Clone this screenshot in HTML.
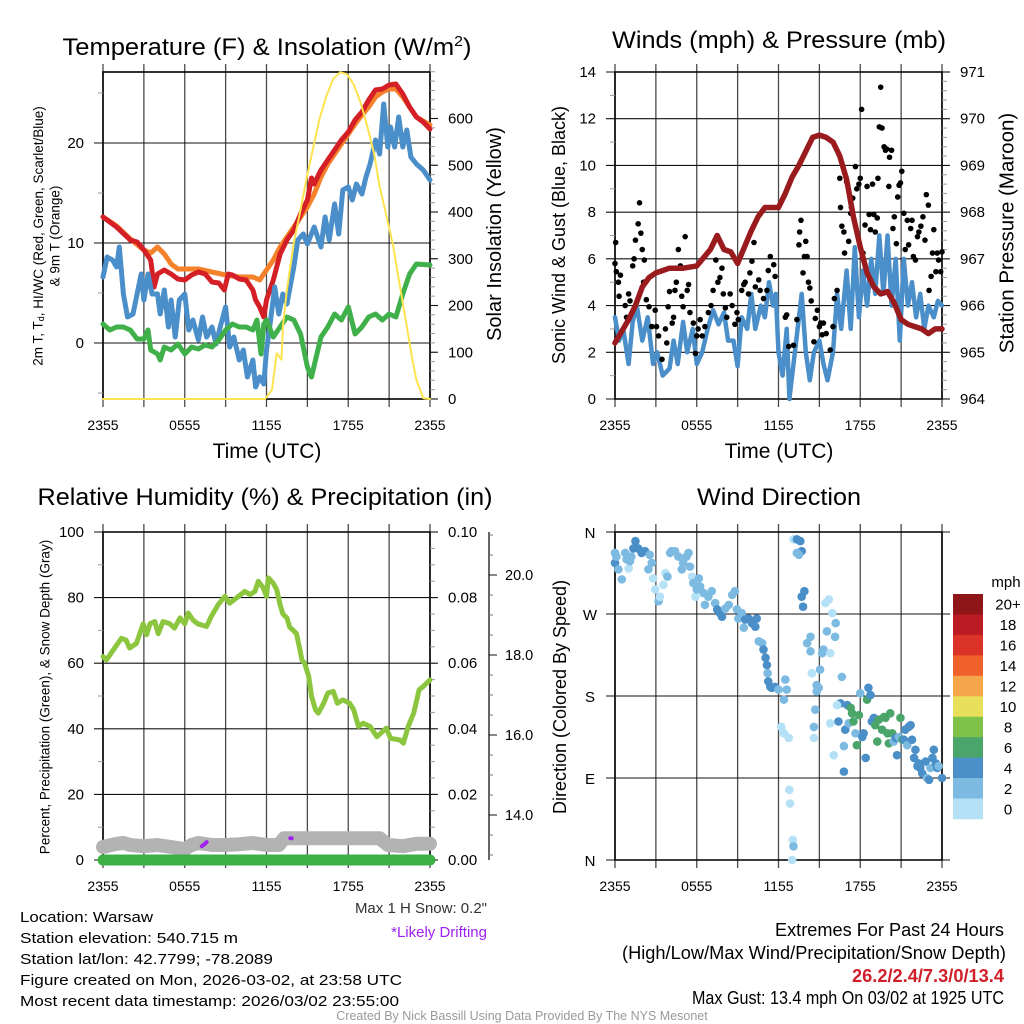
<!DOCTYPE html>
<html><head><meta charset="utf-8"><style>
html,body{margin:0;padding:0;background:#fff}
svg{display:block;font-family:"Liberation Sans",Arial,sans-serif}
</style></head><body>
<svg id="c" width="1024" height="1024" viewBox="0 0 1024 1024" xmlns="http://www.w3.org/2000/svg">
<rect width="1024" height="1024" fill="#fff"/>
<text x="267" y="55" font-size="24" text-anchor="middle" textLength="409" lengthAdjust="spacingAndGlyphs">Temperature (F) &amp; Insolation (W/m<tspan font-size="15" dy="-9">2</tspan><tspan dy="9">)</tspan></text>
<text x="779" y="48" font-size="24" text-anchor="middle" textLength="334" lengthAdjust="spacingAndGlyphs">Winds (mph) &amp; Pressure (mb)</text>
<text x="265" y="505" font-size="24" text-anchor="middle" textLength="455" lengthAdjust="spacingAndGlyphs">Relative Humidity (%) &amp; Precipitation (in)</text>
<text x="779" y="505" font-size="24" text-anchor="middle" textLength="164" lengthAdjust="spacingAndGlyphs">Wind Direction</text>

<text transform="translate(38,236) rotate(-90)" font-size="13.5" text-anchor="middle" dominant-baseline="central">2m T, T<tspan font-size="9" dy="3">d</tspan><tspan dy="-3">, HI/WC (Red, Green, Scarlet/Blue)</tspan></text>
<text transform="translate(55,236) rotate(-90)" font-size="13.5" text-anchor="middle" dominant-baseline="central">&amp; 9m T (Orange)</text>
<text transform="translate(495,234) rotate(-90)" font-size="20" text-anchor="middle" dominant-baseline="central">Solar Insolation (Yellow)</text>
<text transform="translate(559,235) rotate(-90)" font-size="18" text-anchor="middle" dominant-baseline="central">Sonic Wind &amp; Gust (Blue, Black)</text>
<text transform="translate(1007,233) rotate(-90)" font-size="20.5" text-anchor="middle" dominant-baseline="central">Station Pressure (Maroon)</text>
<text transform="translate(45,697) rotate(-90)" font-size="13.5" text-anchor="middle" dominant-baseline="central">Percent, Precipitation (Green), &amp; Snow Depth (Gray)</text>
<text transform="translate(560,697) rotate(-90)" font-size="18" text-anchor="middle" dominant-baseline="central">Direction (Colored By Speed)</text>
<text x="267" y="458" font-size="21" text-anchor="middle">Time (UTC)</text>
<text x="779" y="458" font-size="21" text-anchor="middle">Time (UTC)</text>

<text x="487" y="913" font-size="15" text-anchor="end" fill="#333">Max 1 H Snow: 0.2"</text>
<text x="487" y="937" font-size="15" text-anchor="end" fill="#a020f0">*Likely Drifting</text>

<g font-size="15">
<text x="20" y="922" textLength="133" lengthAdjust="spacingAndGlyphs">Location: Warsaw</text>
<text x="20" y="943" textLength="218" lengthAdjust="spacingAndGlyphs">Station elevation: 540.715 m</text>
<text x="20" y="964" textLength="253" lengthAdjust="spacingAndGlyphs">Station lat/lon: 42.7799; -78.2089</text>
<text x="20" y="985" textLength="382" lengthAdjust="spacingAndGlyphs">Figure created on Mon, 2026-03-02, at 23:58 UTC</text>
<text x="20" y="1006" textLength="379" lengthAdjust="spacingAndGlyphs">Most recent data timestamp: 2026/03/02 23:55:00</text>
</g>
<g font-size="18" text-anchor="end">
<text x="1004" y="936" textLength="229" lengthAdjust="spacingAndGlyphs">Extremes For Past 24 Hours</text>
<text x="1006" y="959" textLength="384" lengthAdjust="spacingAndGlyphs">(High/Low/Max Wind/Precipitation/Snow Depth)</text>
<text x="1004" y="982" font-weight="bold" fill="#d0202a" textLength="152" lengthAdjust="spacingAndGlyphs">26.2/2.4/7.3/0/13.4</text>
<text x="1004" y="1004" textLength="312" lengthAdjust="spacingAndGlyphs">Max Gust: 13.4 mph On 03/02 at 1925 UTC</text>
</g>
<text x="522" y="1020" font-size="12.5" text-anchor="middle" fill="#999">Created By Nick Bassill Using Data Provided By The NYS Mesonet</text>
<text x="1006" y="587" font-size="15" text-anchor="middle">mph</text>
</svg>
<script>
// ---------- DATA ----------
const timeTickLabels = ["2355","0555","1155","1755","2355"];
const tempTicks = [0,10,20];
const solarTicks = [0,100,200,300,400,500,600];
const windTicks = [0,2,4,6,8,10,12,14];
const pressTicks = [964,965,966,967,968,969,970,971];
const rhTicks = [0,20,40,60,80,100];
const precipTicks = [0,0.02,0.04,0.06,0.08,0.10];
const snowTicks = [14,16,18,20];
const dirTicks = [0,90,180,270,360];
const dirTickLabels = ["N","E","S","W","N"];
const cbLabels = ["20+","18","16","14","12","10","8","6","4","2","0"];
const cbColors = ["#8e1518","#bb1c23","#dc3328","#f0602b","#f5a64a","#e8e05a","#7ec24a","#4aa56b","#4a8fc7","#7dbae2","#b5e1f7"];

const orangeT=[0,1,2,3,3.5,4,4.5,5,5.5,6,7,8,9,10,11,11.5,12,12.5,13,13.5,14,14.5,15,15.5,16,16.5,17,17.5,18,18.5,19,19.5,20,20.5,21,21.5,22,22.5,23,24];
const orangeV=[12.6,11.7,10.4,9.3,9.0,9.6,8.9,7.9,7.4,7.4,7.4,7.1,6.8,6.6,6.6,6.3,7.3,8.3,9.6,10.6,11.6,12.6,13.6,14.9,16.6,17.9,18.9,19.9,20.9,21.9,22.8,23.6,24.6,25.1,25.4,25.4,24.6,23.6,22.6,21.8];
const redT=[0,1,2,2.5,3,3.5,3.75,4,4.5,5,5.5,6,6.5,7,7.5,8,8.5,8.9,9.2,9.5,10,10.5,11,11.2,11.5,11.8,12,12.5,13,13.5,14,14.5,15,15.3,15.5,16,16.5,17,17.5,18,18.5,19,19.5,20,20.5,21,21.5,22,22.5,23,23.5,24];
const redV=[12.6,11.6,10.3,10.1,9.3,8.3,5.6,6.9,7.3,6.9,6.4,6.3,6.8,7.1,6.9,6.1,6.0,5.3,6.9,6.8,6.4,6.3,5.3,4.3,3.6,2.6,4.3,6.3,8.9,10.3,11.3,12.9,14.3,16.5,15.9,17.3,18.3,19.3,20.3,21.1,22.3,23.1,24.3,25.3,25.4,25.8,25.9,24.9,23.6,22.6,22.1,21.4];
const blueT=[0,0.3,0.7,1,1.2,1.5,1.8,2.2,2.5,2.8,3,3.3,3.6,4,4.2,4.5,4.8,5,5.3,5.6,6,6.3,6.6,7,7.3,7.6,8,8.3,8.6,9,9.3,9.6,10,10.3,10.6,11,11.2,11.5,11.8,12,12.3,12.6,12.9,13.2,13.5,14,14.3,14.7,15,15.5,16,16.3,16.6,17,17.3,17.6,18,18.3,18.6,19,19.3,19.6,20,20.3,20.6,20.9,21.1,21.4,21.7,22,22.3,22.6,23,23.5,24];
const blueV=[6.6,8.6,8.3,7.6,9.6,4.9,2.6,2.9,4.9,6.9,4.3,6.9,4.9,4.9,2.9,5.3,1.6,4.3,0.6,4.3,4.9,1.3,2.3,0.3,2.6,0.6,1.6,-0.1,1.6,3.6,-0.4,0.6,-1.7,-0.7,-3.4,-1.7,-4.4,-3.4,-4.1,-0.7,2.3,5.6,2.9,4.9,3.9,7.6,10.3,10.9,9.9,11.6,9.6,12.6,10.3,13.9,10.9,15.3,15.6,14.3,15.9,14.9,16.6,17.9,20.3,18.9,23.9,19.6,21.6,19.6,22.6,19.6,21.3,18.6,17.9,17.3,16.3];
const dewT=[0,0.5,1,1.5,2,2.5,3,3.3,3.5,4,4.2,4.5,5,5.5,6,6.5,7,7.5,8,8.5,9,9.5,10,10.5,11,11.3,11.6,11.8,12,12.5,13,13.5,14,14.5,15,15.3,15.6,16,16.5,17,17.5,18,18.5,19,19.5,20,20.5,21,21.5,22,22.5,23,24];
const dewV=[1.9,1.3,1.6,1.6,1.3,0.4,0.4,1.3,-0.7,-1.1,-1.7,-0.4,-0.7,-0.1,-1.1,-0.4,-0.6,-0.2,-0.4,0.3,1.3,1.9,1.6,1.6,1.3,2.3,-1.1,1.9,2.3,0.6,1.6,2.6,2.3,0.9,-2.4,-3.4,-1.7,0.6,1.6,2.9,2.3,3.6,0.9,1.6,2.6,2.9,2.3,2.9,2.6,4.9,6.9,7.9,7.8];
const solarT=[0,11.9,12.4,12.75,13.1,13.2,13.5,14,14.5,15,15.4,15.9,16.4,16.9,17.4,17.9,18.4,18.9,19.4,19.9,20.3,20.8,21.3,21.8,22.3,22.7,23,23.5,24];
const solarV=[0,0,20,98,84,155,234,334,405,480,534,600,648,685,699,695,673,635,583,525,455,392,327,240,155,85,41,2,0];

const pressT=[0,1,1.5,2,2.5,3,4,5,6,7,7.5,8,8.5,9,9.5,10,10.5,11,12,12.5,13,13.5,14,14.5,15,15.5,16,16.5,17,17.5,18,18.5,19,19.5,20,20.5,21,21.5,22,22.5,23,23.5,24];
const pressV=[965.2,965.7,966.0,966.4,966.6,966.7,966.8,966.8,966.85,967.2,967.5,967.2,967.15,966.9,967.25,967.6,967.9,968.1,968.1,968.4,968.75,969.0,969.3,969.6,969.65,969.6,969.5,969.2,968.7,967.9,967.25,966.7,966.4,966.25,966.3,966.05,965.7,965.6,965.55,965.5,965.4,965.5,965.5];
const sonicT=[0,0.3,0.6,1,1.3,1.6,2,2.4,2.8,3.1,3.5,4,4.3,4.6,5,5.3,5.7,6,6.4,6.8,7.2,7.6,8,8.3,8.7,9,9.3,9.7,10,10.3,10.7,11,11.3,11.6,11.8,12,12.3,12.6,12.8,13.1,13.4,13.7,14,14.3,14.6,15,15.3,15.6,16,16.3,16.6,17,17.3,17.6,17.9,18.2,18.5,18.8,19.1,19.4,19.7,20,20.3,20.6,20.9,21.2,21.5,21.8,22.1,22.4,22.7,23,23.4,23.7,24];
const sonicV=[3.5,2.5,3.0,1.5,3.3,4.0,2.5,3.5,1.5,2.0,1.0,1.3,2.5,1.5,3.3,2.0,3.0,1.5,2.0,3.0,3.8,3.2,3.7,2.5,2.5,1.4,3.5,3.0,4.5,3.0,4.0,3.5,5.0,4.0,4.5,2.0,1.0,3.0,0.0,1.5,3.0,4.5,2.0,0.8,2.0,2.5,1.5,0.8,2.0,4.5,3.0,5.5,3.0,6.5,3.5,5.5,4.0,6.0,4.5,7.0,4.5,7.0,4.0,6.0,2.5,6.0,4.0,5.0,3.5,4.5,3.0,4.0,3.5,4.2,4.0];
const gustT=[0,0.05,0.1,0.25,0.4,0.3,0.75,0.85,1.0,1.1,1.3,1.4,1.5,1.7,1.8,1.9,2.0,2.15,2.1,2.3,2.5,2.7,2.95,3.05,3.2,3.45,3.7,3.8,3.9,4.0,4.2,4.3,4.4,4.5,4.65,4.8,4.9,5.0,5.15,5.3,5.4,5.5,5.75,5.9,6.0,6.1,6.25,6.4,6.6,6.85,7.05,7.2,7.4,7.55,7.7,7.85,7.95,8.1,8.2,8.45,8.6,8.8,8.95,9.05,9.3,9.45,9.55,9.8,9.9,10.05,10.2,10.3,10.55,10.65,10.9,11.15,11.25,11.4,11.65,11.75,12.5,12.6,12.75,13.1,13.35,13.5,13.55,13.65,13.8,13.9,14.0,14.1,14.2,14.3,14.4,14.6,14.7,14.85,15.0,15.1,15.2,15.3,15.5,15.8,16.0,16.1,16.3,16.5,16.55,16.65,16.8,16.85,17.0,17.15,17.3,17.35,17.45,17.65,17.75,17.9,18.0,18.1,18.2,18.35,18.5,18.65,18.75,18.9,19.0,19.1,19.25,19.3,19.4,19.5,19.6,19.75,19.85,19.95,20.1,20.15,20.3,20.4,20.5,20.65,20.75,20.85,20.95,21.05,21.2,21.3,21.45,21.55,21.7,21.8,21.9,22.05,22.2,22.3,22.45,22.6,22.75,22.85,23.0,23.05,23.2,23.3,23.4,23.55,23.65,23.75,23.9,24.0];
const gustV=[5.8,6.7,5.45,5.0,5.3,4.4,4.0,3.5,4.5,4.2,5.7,6.0,6.8,7.5,8.4,7.1,6.4,5.95,5.0,4.25,3.95,3.1,3.8,3.1,2.7,1.7,3.0,2.4,3.95,4.6,3.25,3.5,4.65,5.0,6.4,5.7,4.4,3.95,6.95,4.65,4.9,3.7,3.25,1.95,2.7,3.0,3.4,2.7,3.1,3.7,4.0,4.65,5.95,5.0,5.2,5.6,4.5,3.9,3.5,4.5,4.0,3.2,3.7,3.4,4.65,4.9,5.0,4.5,5.4,5.9,6.7,4.8,5.1,4.65,4.3,4.65,5.5,6.1,5.75,5.25,3.5,3.6,2.25,2.3,3.4,6.6,7.15,7.65,5.4,6.1,6.75,6.1,5.0,4.75,4.2,2.45,3.45,3.8,3.1,3.25,2.75,3.25,2.8,2.1,3.1,4.3,4.65,9.45,8.2,7.4,7.15,6.25,9.3,6.75,7.95,8.2,8.6,9.95,9.0,9.2,9.45,12.4,6.25,7.45,9.1,7.9,7.25,9.2,7.9,7.15,7.75,9.45,11.65,13.35,11.6,10.8,10.65,10.7,9.1,10.35,10.65,7.3,7.8,6.65,8.65,9.15,9.25,9.75,7.95,6.4,7.65,6.6,7.3,7.65,6.1,5.95,6.95,7.15,7.4,7.8,6.8,8.75,8.3,4.65,5.25,6.25,7.25,5.45,6.25,5.95,5.45,6.3];

const rhT=[0,0.25,0.75,1.35,1.7,1.95,2.45,2.95,3.2,3.45,3.8,4.05,4.4,4.9,5.25,5.65,6.0,6.25,6.6,6.95,7.6,7.95,8.45,8.95,9.3,9.8,10.4,10.8,11.15,11.4,11.76,12.0,12.13,12.5,12.75,13.0,13.2,13.5,13.7,13.97,14.2,14.46,14.6,14.8,15.1,15.3,15.6,15.8,16.2,16.5,16.9,17.2,17.6,18.1,18.4,18.75,19.1,19.6,20.1,20.8,21.1,21.8,22.05,22.4,22.8,23.2,23.5,24];
const rhV=[62,61,64,67.6,67,64.6,66,72,68.7,72,72.7,69,72.7,72,70.7,73.8,72,75.3,73.2,72,71.2,74.3,77.8,80.4,78.3,79.9,81.9,80.9,81.9,85,83,80.4,86,84.4,82.4,77.8,75,73.8,71,70,69,64,61,60,56,50,45.8,44.8,47.8,50.9,51.4,47.8,48.8,47.8,45.8,40.7,41.7,40.7,37.6,40.2,37.1,36.6,35.6,40.7,44.8,51.9,52.9,54.9];
const snowT=[0,1,1.5,2,3,4,5,6,6.5,7,8,9,10,11,12,12.9,13.3,20.3,20.9,22,23,24];
const snowV=[13.2,13.28,13.3,13.25,13.22,13.25,13.2,13.15,13.25,13.3,13.25,13.25,13.27,13.3,13.25,13.25,13.42,13.42,13.25,13.22,13.28,13.28];
const precipT=[0,24];
const precipV=[0,0];
const driftT=[7.25,7.45,7.6];
const driftV=[13.22,13.27,13.32];
const drift2T=[13.75,13.85];
const drift2V=[13.42,13.42];

const dirT=[0,0,0.1,0.25,0.5,0.75,0.85,1.0,1.1,1.2,1.35,1.5,1.7,1.95,2.2,2.45,2.55,2.7,2.8,2.95,3.2,3.3,3.55,3.7,3.85,4.05,4.15,4.4,4.65,4.9,5.0,5.25,5.4,5.5,5.65,5.75,5.9,6.0,6.15,6.25,6.5,6.6,6.85,7.1,7.35,7.5,7.7,7.85,8.1,8.35,8.6,8.8,8.95,9.05,9.3,9.45,9.55,9.8,10.05,10.3,10.4,10.55,10.8,10.9,11.05,11.15,11.2,11.25,11.4,11.5,11.75,12.0,12.4,12.5,12.6,12.2,12.4,12.75,12.8,12.85,13.05,13.1,13.0,13.1,13.35,13.6,13.7,13.35,13.5,13.7,13.9,13.8,14.1,14.35,14.35,14.45,14.6,14.6,14.7,14.8,14.8,14.95,15.05,15.2,15.3,15.55,15.45,15.7,15.95,16.2,16.15,15.8,16.05,16.55,16.4,16.3,15.8,16.65,16.8,16.8,16.9,17.05,17.15,17.3,17.4,17.5,17.65,17.75,17.9,18.0,18.15,18.25,18.4,18.5,18.6,18.75,18.85,19.0,19.1,19.25,19.35,19.6,19.75,19.85,20.0,20.1,20.2,20.35,20.45,20.6,20.7,20.85,20.95,21.1,21.2,21.3,21.45,21.55,21.7,21.8,21.95,22.05,22.2,22.3,22.4,22.55,22.8,22.9,23.05,23.15,23.3,23.4,23.55,23.65,23.75,24.0];
const dirDeg=[337,326,333,319,308,337,330,320,328,333,342,350,342,337,339,319,335,326,309,297,284,289,302,315,311,337,339,339,333,319,326,333,337,322,311,304,289,297,309,300,293,280,289,295,282,275,271,267,276,280,291,295,275,265,271,255,264,265,260,256,265,240,238,231,222,214,205,196,190,189,190,187,176,198,187,146,139,134,77,62,22,15,0,352,352,350,339,337,335,289,295,278,238,245,229,205,146,134,165,185,192,189,209,227,231,251,282,286,271,260,245,227,115,172,152,170,150,201,125,97,143,170,150,167,161,152,139,126,159,183,135,139,112,176,189,181,152,156,148,130,154,143,157,156,139,128,161,139,130,134,115,135,156,132,132,143,126,146,148,132,112,121,103,106,101,95,108,90,88,101,112,121,106,101,103,90];
const dirSpd=[3,5,3,3,3,3,3,1,3,3,5,5,5,5,5,3,3,3,1,1,3,1,1,1,3,3,3,3,3,3,3,3,3,3,1,3,1,3,3,3,3,3,3,3,3,5,5,5,3,3,3,3,3,3,3,3,5,5,5,5,5,3,3,5,5,5,3,5,5,5,5,3,3,3,3,1,1,1,1,1,1,3,1,1,5,5,5,3,3,5,5,5,3,3,3,1,3,1,3,3,3,3,3,3,3,3,1,1,1,3,3,1,1,5,5,1,1,3,3,5,5,5,3,7,7,7,3,7,7,3,5,5,5,7,5,5,5,5,7,7,7,7,7,7,7,7,7,7,3,5,5,3,7,7,5,5,3,5,5,5,5,5,5,5,5,5,5,3,5,3,5,5,5,5,3,5];

// ---------- HELPERS ----------
const NS='http://www.w3.org/2000/svg';
const svg=document.getElementById('c');
function mk(tag,a,parent){const e=document.createElementNS(NS,tag);for(const k in a)e.setAttribute(k,a[k]);(parent||svg).appendChild(e);return e;}
function lin(d0,d1,r0,r1){return v=>r0+(v-d0)*(r1-r0)/(d1-d0);}

const P1={x0:103,x1:430,y0:72,y1:399};
const P2={x0:615,x1:942,y0:72,y1:399};
const P3={x0:103,x1:430,y0:532,y1:860};
const P4={x0:615,x1:942,y0:532,y1:860};

function frame(P,name){
  const g=mk('g',{});
  
  
  for(let k=0;k<=8;k++){
    const x=P.x0+k*(P.x1-P.x0)/8;
    const l=mk('line',{x1:x,x2:x,y1:P.y0-8,y2:P.y1+8,stroke:'#4a4a4a','stroke-width':1.3},g);
    
    
  }
  const r=mk('rect',{x:P.x0,y:P.y0,width:P.x1-P.x0,height:P.y1-P.y0,fill:'none',stroke:'#000','stroke-width':1.6},g);
  
  
  for(let k=0;k<timeTickLabels.length;k++){
    const t=mk('text',{x:P.x0+k*(P.x1-P.x0)/4,y:P.y1+31,'font-size':14,'text-anchor':'middle'},g);
    t.textContent=timeTickLabels[k];
    
    
  }
  return g;
}
function hgrid(P,ticks,sy,labels,side,fmt,name){
  for(let i=0;i<ticks.length;i++){
    const y=sy(ticks[i]);
    const l=mk('line',{x1:side==='left'?P.x0-9:P.x0,x2:side==='left'?P.x1:P.x1+9,y1:y,y2:y,stroke:'#111','stroke-width':1.1});
    
    
    if(labels){
      const t=mk('text',{x:side==='left'?P.x0-19:P.x1+18,y:y+5,'font-size':15,'text-anchor':side==='left'?'end':'start'});
      t.textContent=fmt(ticks[i],i);
      
      
    }
  }
}
function minor(P,lo,hi,step,sy,side,len,name){
  for(let v=lo;v<=hi+1e-9;v+=step){
    const y=sy(v);
    if(y<P.y0-0.5||y>P.y1+0.5)continue;
    const x=side==='left'?P.x0:P.x1;
    const l=mk('line',{x1:side==='left'?x-len:x,x2:side==='left'?x:x+len,y1:y,y2:y,stroke:'#999','stroke-width':1});
    
    
  }
}
function path(T,V,sx,sy,color,w,name){
  let d='';
  for(let i=0;i<T.length;i++)d+=(i?'L':'M')+sx(T[i]).toFixed(1)+','+sy(V[i]).toFixed(1);
  const p=mk('path',{d:d,fill:'none',stroke:color,'stroke-width':w,'stroke-linejoin':'round','stroke-linecap':'round'});
  
  
  return p;
}

// ---------- PANEL 1 ----------
const x1s=lin(0,24,P1.x0,P1.x1);
const yT=lin(0,10,343,243);
const yS=lin(0,600,399,118.5);
frame(P1,'temperature-panel');
minor(P1,-5,25,10,yT,'left',5,'temperature');
minor(P1,0,700,20,yS,'right',5,'solar');
hgrid(P1,tempTicks,yT,true,'left',v=>String(v),'temperature');
for(let i=0;i<solarTicks.length;i++){
  const y=yS(solarTicks[i]);
  const l=mk('line',{x1:P1.x1,x2:P1.x1+8,y1:y,y2:y,stroke:'#111','stroke-width':1.1});
  
  
  const t=mk('text',{x:P1.x1+18,y:y+5,'font-size':15});
  t.textContent=String(solarTicks[i]);
  
  
}
path(orangeT,orangeV,x1s,yT,'#f5822a',5,'temp-9m-orange-line');
path(redT,redV,x1s,yT,'#d41f26',5,'temp-2m-red-line');
path(blueT,blueV,x1s,yT,'#4a8fc9',5,'windchill-blue-line');
path(dewT,dewV,x1s,yT,'#3fb04a',5,'dewpoint-green-line');
path(solarT,solarV,x1s,yS,'#fde350',2,'solar-yellow-line');

// ---------- PANEL 2 ----------
const x2s=lin(0,24,P2.x0,P2.x1);
const yW=lin(0,14,399,72);
const yP=lin(964,971,399,72);
frame(P2,'winds-panel');
minor(P2,1,13,2,yW,'left',5,'wind');
minor(P2,964,971,0.2,yP,'right',5,'pressure');
hgrid(P2,windTicks,yW,true,'left',v=>String(v),'wind');
for(let i=0;i<pressTicks.length;i++){
  const y=yP(pressTicks[i]);
  const l=mk('line',{x1:P2.x1,x2:P2.x1+8,y1:y,y2:y,stroke:'#111','stroke-width':1.1});
  
  
  const t=mk('text',{x:P2.x1+18,y:y+5,'font-size':15});
  t.textContent=String(pressTicks[i]);
  
  
}
path(sonicT,sonicV,x2s,yW,'#4a8fc9',4.5,'sonic-wind-line');
for(let i=0;i<gustT.length;i++){
  const c=mk('circle',{cx:x2s(gustT[i]),cy:yW(gustV[i]),r:2.8,fill:'#000'});
  
  
}
path(pressT,pressV,x2s,yP,'#9a1b1e',5.5,'pressure-maroon-line');

// ---------- PANEL 3 ----------
const x3s=lin(0,24,P3.x0,P3.x1);
const yR=lin(0,100,860,532);
const yPr=lin(0,0.1,860,532);
const ySn=lin(14,16,815,735);
frame(P3,'humidity-panel');
minor(P3,10,90,20,yR,'left',5,'humidity');
minor(P3,0,0.1,0.005,yPr,'right',5,'precip');
hgrid(P3,rhTicks,yR,true,'left',v=>String(v),'humidity');
for(let i=0;i<precipTicks.length;i++){
  const y=yPr(precipTicks[i]);
  const l=mk('line',{x1:P3.x1,x2:P3.x1+8,y1:y,y2:y,stroke:'#111','stroke-width':1.1});
  
  
  const t=mk('text',{x:P3.x1+18,y:y+5,'font-size':15});
  t.textContent=precipTicks[i].toFixed(2);
  
  
}
const sAx=mk('line',{x1:489,x2:489,y1:532,y2:860,stroke:'#111','stroke-width':1.3});


for(let v=13;v<=21;v+=0.5){
  const y=ySn(v);
  const major=snowTicks.indexOf(v)>=0;
  const l=mk('line',{x1:489,x2:489+(major?8:4),y1:y,y2:y,stroke:major?'#111':'#777','stroke-width':1});
  
  
}
for(let i=0;i<snowTicks.length;i++){
  const t=mk('text',{x:505,y:ySn(snowTicks[i])+5,'font-size':14.5});
  t.textContent=snowTicks[i].toFixed(1);
  
  
}
path(snowT,snowV,x3s,ySn,'#b3b3b3',14,'snow-depth-gray-line');
path(driftT,driftV,x3s,ySn,'#a020f0',4,'drifting-marker');
path(drift2T,drift2V,x3s,ySn,'#a020f0',4,'drifting-marker-2');
path(precipT,precipV,x3s,yPr,'#3cb044',11,'precip-green-line');
path(rhT,rhV,x3s,yR,'#8cc63f',5,'humidity-green-line');

// ---------- PANEL 4 ----------
const x4s=lin(0,24,P4.x0,P4.x1);
const yD=lin(0,360,860,532);
frame(P4,'wind-direction-panel');
for(let i=0;i<dirTicks.length;i++){
  const y=yD(dirTicks[i]);
  const l=mk('line',{x1:P4.x0-9,x2:P4.x1+8,y1:y,y2:y,stroke:'#111','stroke-width':1.1});
  
  
  const t=mk('text',{x:590,y:y+6,'font-size':15,'text-anchor':'middle'});
  t.textContent=dirTickLabels[i];
  
  
}
function spdColor(s){const idx=Math.min(10,Math.floor(s/2));return cbColors[10-idx];}
for(let i=0;i<dirT.length;i++){
  const c=mk('circle',{cx:x4s(dirT[i]),cy:yD(dirDeg[i]),r:4.3,fill:spdColor(dirSpd[i])});
  
  
}
const cbH=225/cbColors.length;
for(let i=0;i<cbColors.length;i++){
  const r=mk('rect',{x:953,y:594+i*cbH,width:30,height:cbH+0.3,fill:cbColors[i]});
  
  
  const t=mk('text',{x:1008,y:594+i*cbH+cbH/2+5.5,'font-size':15,'text-anchor':'middle'});
  t.textContent=cbLabels[i];
  
  
}
</script>
</body></html>
